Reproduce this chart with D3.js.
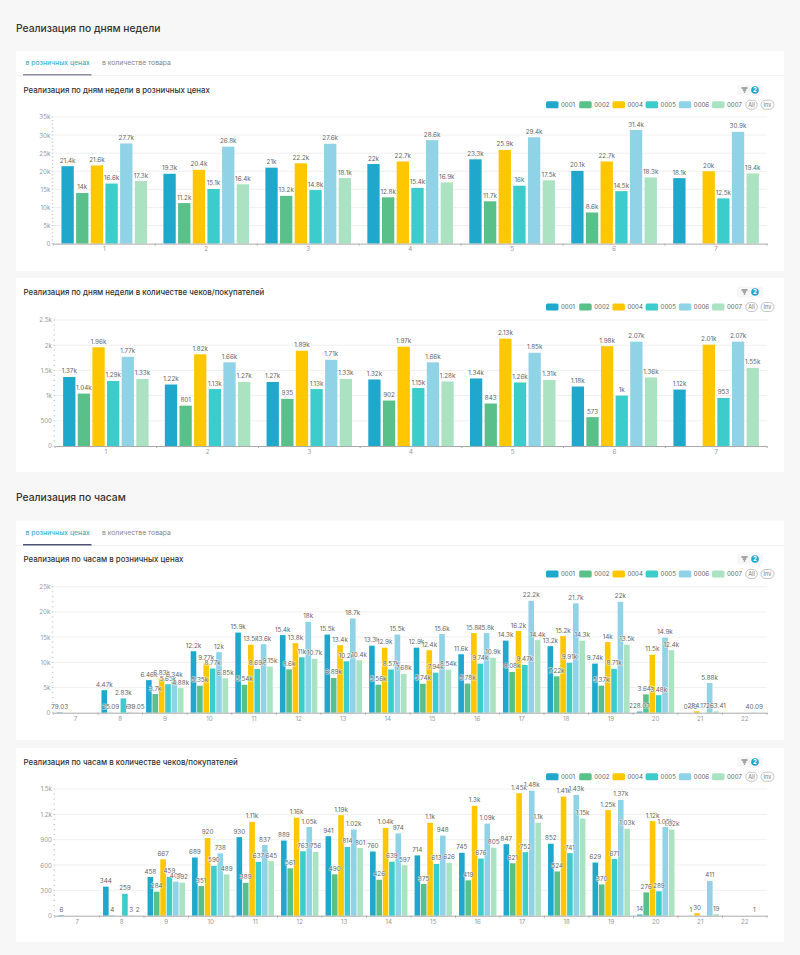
<!DOCTYPE html>
<html>
<head>
<meta charset="utf-8">
<script src="https://cdn.jsdelivr.net/npm/d3@7"></script>
<style>
body { margin: 0; background: #f7f7f7; font-family: Inter, "Noto Sans", sans-serif; }
svg { display: block; }
text { font-family: Inter, "Noto Sans", sans-serif; }
</style>
</head>
<body>
<div id="chart-area"></div>
<script>
var seriesNames = ["0001", "0002", "0004", "0005", "0006", "0007"]
var seriesColors = ["#1fa8cc", "#5ac08a", "#ffc700", "#3dcccc", "#90d2e6", "#abe2c2"]

var days = ["1", "2", "3", "4", "5", "6", "7"]
var hours = ["7", "8", "9", "10", "11", "12", "13", "14", "15", "16", "17", "18", "19", "20", "21", "22"]

// one row per series, in the order of seriesNames
var dayRetail = [
	[21400, 19300, 21000, 22000, 23300, 20100, 18100],
	[14000, 11200, 13200, 12800, 11700, 8600, null],
	[21600, 20400, 22200, 22700, 25900, 22700, 20000],
	[16600, 15100, 14800, 15400, 16000, 14500, 12500],
	[27700, 26800, 27600, 28600, 29400, 31400, 30900],
	[17300, 16400, 18100, 16900, 17500, 18300, 19400]
]
var dayChecks = [
	[1370, 1220, 1270, 1320, 1340, 1180, 1120],
	[1040, 801, 935, 902, 843, 573, null],
	[1960, 1820, 1890, 1970, 2130, 1980, 2010],
	[1290, 1130, 1130, 1150, 1260, 1000, 953],
	[1770, 1660, 1710, 1660, 1850, 2070, 2070],
	[1330, 1270, 1330, 1280, 1310, 1360, 1550]
]
var hourRetail = [
	[79.03, 4470, 6460, 12200, 15900, 15400, 15500, 13300, 12900, 11600, 14300, 13200, 9740, 228.03, null, null],
	[null, 25.09, 3700, 5350, 5540, 8600, 6890, 5560, 5740, 5780, 8080, 7220, 5370, 3640, 0.99, null],
	[null, null, 6830, 9770, 13500, 13800, 13400, 12900, 12400, 15800, 16200, 15200, 14000, 11500, 284.17, null],
	[null, 2830, 5650, 8770, 8690, 11000, 10200, 8570, 7940, 9740, 9470, 9910, 8710, 3480, null, null],
	[null, 64, 6340, 12000, 13600, 18000, 18700, 15500, 15600, 15800, 22200, 21700, 22000, 14900, 5880, 40.09],
	[null, 39.05, 4880, 6850, 9150, 10700, 10400, 7680, 8540, 10900, 14400, 14300, 13500, 12400, 263.41, null]
]
var hourChecks = [
	[6, 344, 458, 689, 930, 889, 941, 760, 714, 745, 847, 852, 629, 14, null, null],
	[null, 4, 284, 351, 389, 561, 490, 426, 375, 419, 621, 524, 370, 276, 1, null],
	[null, null, 667, 920, 1110, 1160, 1190, 1040, 1100, 1300, 1450, 1410, 1250, 1120, 30, null],
	[null, 259, 459, 590, 637, 763, 814, 639, 613, 676, 752, 741, 671, 289, null, null],
	[null, 3, 403, 738, 837, 1050, 1020, 974, 948, 1090, 1480, 1430, 1370, 1050, 411, 1],
	[null, 2, 392, 489, 645, 756, 801, 597, 626, 805, 1100, 1150, 1030, 1020, 19, null]
]

var dayRetailTicks = [0, 5000, 10000, 15000, 20000, 25000, 30000, 35000]
var dayChecksTicks = [0, 500, 1000, 1500, 2000, 2500]
var hourRetailTicks = [0, 5000, 10000, 15000, 20000, 25000]
var hourChecksTicks = [0, 300, 600, 900, 1200, 1500]

var width = 800
var height = 955
var smallFont = "Open Sans"

var svg = d3.select("#chart-area").append("svg")
.attr("width", width)
.attr("height", height)

const card = (y, h) => {
	svg.append("rect")
	.attr("x", 16)
	.attr("y", y)
	.attr("width", 768)
	.attr("height", h)
	.attr("fill", "white")
}

const heading = (label, y) => {
	svg.append("text")
	.attr("x", 16)
	.attr("y", y)
	.attr("font-size", "10.3px")
	.attr("font-weight", 500)
	.attr("fill", "#333")
	.text(label)
}

const tabs = (y, barColor) => {
	svg.append("line")
	.attr("x1", 16).attr("x2", 784)
	.attr("y1", y + 15.5).attr("y2", y + 15.5)
	.attr("stroke", "#f2f2f2")

	svg.append("text")
	.attr("x", 25.5)
	.attr("y", y + 5.2)
	.attr("font-size", "6.8px")
	.attr("font-weight", 500)
	.attr("fill", "#3fb0c9")
	.text("в розничных ценах")

	svg.append("text")
	.attr("x", 102)
	.attr("y", y + 5.2)
	.attr("font-size", "6.8px")
	.attr("fill", "#888")
	.text("в количестве товара")

	svg.append("rect")
	.attr("x", 23)
	.attr("y", y + 14)
	.attr("width", 68.5)
	.attr("height", 1.5)
	.attr("fill", barColor)
}

const filterButton = (y) => {
	var f = svg.append("g").attr("transform", "translate(737, " + (y - 5.5) + ")")
	f.append("rect")
	.attr("width", 26)
	.attr("height", 11)
	.attr("rx", 2)
	.attr("fill", "#f7f7f7")
	f.append("path")
	.attr("d", "M4.5 3.5h6M5.8 5.5h3.4M6.8 7.5h1.4")
	.attr("stroke", "#555")
	.attr("fill", "none")
	f.append("circle")
	.attr("cx", 18)
	.attr("cy", 5.5)
	.attr("r", 3.8)
	.attr("fill", "#1fa8cc")
	f.append("text")
	.attr("x", 18)
	.attr("y", 7.8)
	.attr("text-anchor", "middle")
	.attr("font-size", "6.2px")
	.attr("font-weight", 700)
	.attr("fill", "white")
	.text("2")
}

const legend = (y) => {
	seriesNames.forEach((name, i) => {
		var lx = 546 + i * 33.2
		svg.append("rect")
		.attr("x", lx)
		.attr("y", y - 3.5)
		.attr("width", 12.5)
		.attr("height", 7)
		.attr("rx", 1.5)
		.attr("fill", seriesColors[i])
		svg.append("text")
		.attr("x", lx + 15)
		.attr("y", y + 2.2)
		.attr("font-size", "6.1px")
		.attr("font-family", smallFont)
		.attr("fill", "#666")
		.text(name)
	})
	var pills = [["All", 751.5, 11.5], ["Inv", 767.5, 13]]
	pills.forEach(p => {
		svg.append("rect")
		.attr("x", p[1] - p[2] / 2)
		.attr("y", y - 4.5)
		.attr("width", p[2])
		.attr("height", 9)
		.attr("rx", 4.5)
		.attr("fill", "white")
		.attr("stroke", "#aaa")
		.attr("stroke-width", 0.7)
		svg.append("text")
		.attr("x", p[1])
		.attr("y", y + 2)
		.attr("text-anchor", "middle")
		.attr("font-size", "5.6px")
		.attr("font-family", smallFont)
		.attr("fill", "#777")
		.text(p[0])
	})
}

const barChart = (opts) => {
	var x0 = d3.scaleBand()
	.domain(opts.categories)
	.range([opts.left, 767])

	var x1 = d3.scaleBand()
	.domain(seriesNames)
	.range([x0.step() * opts.inset, x0.step() * (1 - opts.inset)])
	.paddingInner(opts.gap)

	var y = d3.scaleLinear()
	.domain([0, opts.ticks[opts.ticks.length - 1]])
	.range([opts.bottom, opts.top])

	var g = svg.append("g")

	// gridlines
	g.append("g").selectAll("line").data(opts.ticks.slice(1))
	.enter().append("line")
	.attr("x1", opts.left)
	.attr("x2", 767)
	.attr("y1", d => y(d))
	.attr("y2", d => y(d))
	.attr("stroke", "#f0f0f0")

	// bars
	var groups = g.append("g").selectAll("g").data(opts.values)
	.enter().append("g")
	.attr("fill", (d, i) => seriesColors[i])

	groups.selectAll("rect")
	.data((d, i) => d.map((v, c) => ({ s: seriesNames[i], c: opts.categories[c], v: v })).filter(d => d.v !== null))
	.enter().append("rect")
	.attr("x", d => x0(d.c) + x1(d.s))
	.attr("y", d => y(d.v))
	.attr("width", x1.bandwidth())
	.attr("height", d => opts.bottom - y(d.v))

	// y axis: labels and dotted minor ticks
	var yAxis = g.append("g")
	.attr("transform", "translate(" + opts.left + ", 0)")
	.call(d3.axisLeft(y).tickValues(opts.ticks).tickFormat(d3.format("~s")).tickSize(0).tickPadding(3))
	yAxis.select(".domain").remove()
	yAxis.selectAll("text")
	.attr("font-size", "6.2px")
	.attr("font-family", smallFont)
	.attr("fill", "#999")

	var step = opts.ticks[1] / 5
	g.append("g").selectAll("line").data(d3.range(0, y.domain()[1] + 1, step))
	.enter().append("line")
	.attr("x1", opts.left - 1.5)
	.attr("x2", opts.left)
	.attr("y1", d => y(d))
	.attr("y2", d => y(d))
	.attr("stroke", "#aaa")
	.attr("stroke-width", 0.7)

	// x axis: labels centred, ticks on the band edges
	var xAxis = g.append("g")
	.attr("transform", "translate(0, " + opts.bottom + ")")
	.call(d3.axisBottom(x0).tickSize(0).tickPadding(3.5))
	xAxis.select(".domain").attr("stroke", "#aaa")
	xAxis.selectAll("text")
	.attr("font-size", "6.2px")
	.attr("font-family", smallFont)
	.attr("fill", "#999")

	g.append("g").selectAll("line").data(opts.categories.concat(["end"]))
	.enter().append("line")
	.attr("x1", (d, i) => opts.left + i * x0.step())
	.attr("x2", (d, i) => opts.left + i * x0.step())
	.attr("y1", opts.bottom)
	.attr("y2", opts.bottom + 2)
	.attr("stroke", "#aaa")

	// value labels go over all the bars
	opts.values.forEach((row, i) => {
		row.forEach((v, c) => {
			if (v === null) return
			g.append("text")
			.attr("x", x0(opts.categories[c]) + x1(seriesNames[i]) + x1.bandwidth() / 2)
			.attr("y", y(v) - 3.5)
			.attr("text-anchor", "middle")
			.attr("font-size", "6.3px")
			.attr("font-family", smallFont)
			.attr("fill", "#666")
			.attr("stroke", "white")
			.attr("stroke-width", 1.2)
			.attr("stroke-opacity", 0.7)
			.attr("paint-order", "stroke")
			.text(v < 1000 ? String(v) : d3.format(".3~s")(v))
		})
	})
}

const chartTitle = (label, y) => {
	svg.append("text")
	.attr("x", 23.5)
	.attr("y", y + 3)
	.attr("font-size", "7.85px")
	.attr("font-weight", 500)
	.attr("fill", "#333")
	.text(label)
}

// FIRST SECTION
heading("Реализация по дням недели", 32)
card(51, 220)
card(278, 194)
tabs(60, "#8d90a5")

chartTitle("Реализация по дням недели в розничных ценах", 90)
filterButton(90)
legend(104.7)
barChart({ categories: days, values: dayRetail, ticks: dayRetailTicks, left: 53.3, top: 117, bottom: 243.6, inset: 0.08, gap: 0.16 })

chartTitle("Реализация по дням недели в количестве чеков/покупателей", 292)
filterButton(292)
legend(307)
barChart({ categories: days, values: dayChecks, ticks: dayChecksTicks, left: 55, top: 320, bottom: 446, inset: 0.08, gap: 0.16 })

// SECOND SECTION
heading("Реализация по часам", 501)
card(520.5, 219.5)
card(748, 194)
tabs(530, "#4d5375")

chartTitle("Реализация по часам в розничных ценах", 559)
filterButton(559)
legend(574)
barChart({ categories: hours, values: hourRetail, ticks: hourRetailTicks, left: 53.3, top: 586.7, bottom: 712.7, inset: 0.08, gap: 0.12 })

chartTitle("Реализация по часам в количестве чеков/покупателей", 762)
filterButton(762)
legend(776.7)
barChart({ categories: hours, values: hourChecks, ticks: hourChecksTicks, left: 55, top: 789, bottom: 915.7, inset: 0.08, gap: 0.12 })
</script>
</body>
</html>
